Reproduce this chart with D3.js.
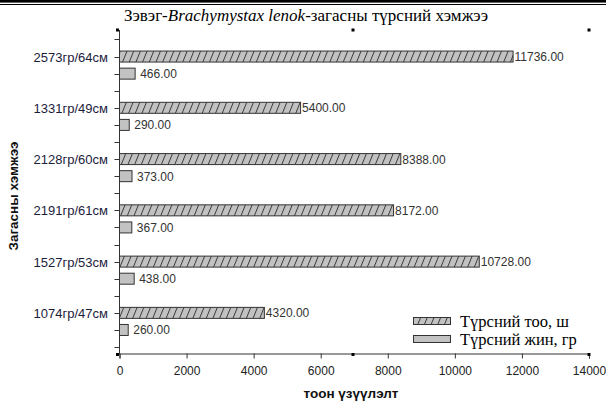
<!DOCTYPE html>
<html><head><meta charset="utf-8">
<script src="https://cdn.jsdelivr.net/npm/d3@7"></script>
<style>
html,body{margin:0;padding:0;background:#fff;}
svg{display:block;}
text{font-family:"Liberation Sans",Arial,sans-serif;}
text.serif{font-family:"Liberation Serif","Times New Roman",serif;}
</style></head>
<body>
<svg id="chart" width="606" height="403"></svg>
<script>
// Categories from top to bottom
const categories = ["2573гр/64см","1331гр/49см","2128гр/60см","2191гр/61см","1527гр/53см","1074гр/47см"];
const eggCount = [11736, 5400, 8388, 8172, 10728, 4320];   // Түрсний тоо, ш
const eggWeight = [466, 290, 373, 367, 438, 260];          // Түрсний жин, гр
const xTicks = [0,2000,4000,6000,8000,10000,12000,14000];
const seriesNames = ["Түрсний тоо, ш","Түрсний жин, гр"];

(function(){
const svg = d3.select("#chart");
const W = 606, H = 403;
const pLeft = 119.5, pRight = 589, pTop = 30, pBottom = 353.5;

// border lines at top
svg.append("rect").attr("x",0).attr("y",0).attr("width",W).attr("height",2.6).attr("fill","#000");
svg.append("rect").attr("x",0).attr("y",4).attr("width",W).attr("height",1).attr("fill","#000");

const defs = svg.append("defs");
const pat = defs.append("pattern").attr("id","hatch").attr("patternUnits","userSpaceOnUse")
  .attr("width",6.2).attr("height",10).attr("patternTransform","rotate(22)");
pat.append("rect").attr("width",6.2).attr("height",10).attr("fill","#c2c2c2");
pat.append("line").attr("x1",0.5).attr("y1",0).attr("x2",0.5).attr("y2",10).attr("stroke","#333").attr("stroke-width",0.9);

const x = d3.scaleLinear().domain([0,14000]).range([pLeft,pRight]);
const y = d3.scaleBand().domain(categories).range([48,355.6]).paddingInner(0).paddingOuter(0);
const slot = y.bandwidth()/3;
const barH = 11;

// title
const title = svg.append("text").attr("class","serif").attr("x",306).attr("y",21)
  .attr("text-anchor","middle").attr("font-size",17).attr("fill","#000");
title.append("tspan").text("Зэвэг-");
title.append("tspan").attr("font-style","italic").text("Brachymystax lenok");
title.append("tspan").text("-загасны түрсний хэмжээ");

// bars
const g = svg.append("g");
categories.forEach((c,i)=>{
  const yc1 = y(c) + slot*0.5;
  const yc2 = y(c) + slot*1.5;
  g.append("rect").attr("x",x(0)).attr("y",yc1-barH/2).attr("width",x(eggCount[i])-x(0)).attr("height",barH)
    .attr("fill","url(#hatch)").attr("stroke","#333").attr("stroke-width",1);
  g.append("rect").attr("x",x(0)).attr("y",yc2-barH/2).attr("width",x(eggWeight[i])-x(0)).attr("height",barH)
    .attr("fill","#c2c2c2").attr("stroke","#333").attr("stroke-width",1);
  g.append("text").attr("x",x(eggCount[i])+1.5).attr("y",yc1+4.5).attr("font-size",12).attr("fill","#333")
    .text(d3.format(".2f")(eggCount[i]));
  g.append("text").attr("x",x(eggWeight[i])+5).attr("y",yc2+4.5).attr("font-size",12).attr("fill","#333")
    .text(d3.format(".2f")(eggWeight[i]));
  g.append("text").attr("x",108).attr("y",yc1+5).attr("font-size",13).attr("text-anchor","end").attr("fill","#1c1c3c")
    .text(c);
});

// y axis line & ticks
svg.append("line").attr("x1",pLeft).attr("x2",pLeft).attr("y1",pTop).attr("y2",pBottom+1).attr("stroke","#333");
const tickYs = [y(categories[0]) - slot*0.5];
categories.forEach(c=>{ for(let k=0;k<3;k++) tickYs.push(y(c)+slot*(k+0.5)); });
svg.selectAll(".yt").data(tickYs).enter().append("line")
  .attr("x1",pLeft-5).attr("x2",pLeft).attr("y1",d=>Math.round(d)+0.5).attr("y2",d=>Math.round(d)+0.5).attr("stroke","#333");

// x axis
const xAxis = d3.axisBottom(x).tickValues(xTicks).tickSize(5).tickPadding(8).tickFormat(d3.format("d"));
const xg = svg.append("g").attr("transform",`translate(0,${pBottom})`).call(xAxis);
xg.select(".domain").attr("stroke","#333");
xg.selectAll(".tick line").attr("stroke","#333");
xg.selectAll(".tick text").attr("font-size",12).attr("fill","#222").attr("font-family","Liberation Sans, Arial, sans-serif");

// axis titles
svg.append("text").attr("x",351).attr("y",398).attr("text-anchor","middle").attr("font-size",13.5)
  .attr("font-weight","bold").attr("fill","#111").text("тоон үзүүлэлт");
svg.append("text").attr("transform","translate(18,196) rotate(-90)").attr("text-anchor","middle").attr("font-size",13.5)
  .attr("font-weight","bold").attr("fill","#111").text("Загасны хэмжээ");

// selection handles
[[pLeft-2,pTop],[353,pTop],[pRight,pTop],[pLeft-2,pBottom+1],[353,pBottom+1],[pRight,pBottom+1]].forEach(p=>{
  svg.append("rect").attr("x",p[0]-1.5).attr("y",p[1]-1.5).attr("width",3).attr("height",3).attr("fill","#000");
});

// legend
const leg = svg.append("g");
const sw = [{fill:"url(#hatch)", y:317, name:seriesNames[0]},{fill:"#c2c2c2", y:335, name:seriesNames[1]}];
sw.forEach(s=>{
  leg.append("rect").attr("x",413.5).attr("y",s.y+0.5).attr("width",37).attr("height",7).attr("fill",s.fill).attr("stroke","#333");
  leg.append("text").attr("class","serif").attr("x",460).attr("y",s.y+9.5).attr("font-size",16.5).attr("fill","#000").text(s.name);
});
})();
</script>
</body></html>
